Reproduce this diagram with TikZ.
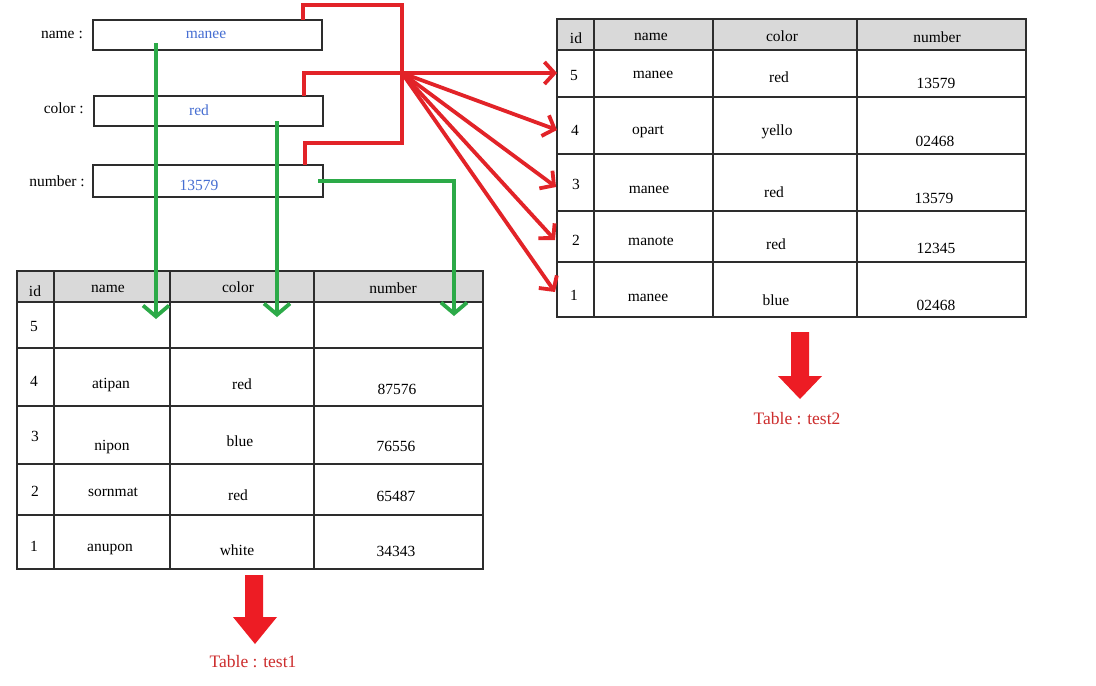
\documentclass[tikz,border=0pt]{standalone}
\usepackage{fontspec}
\setmainfont{Liberation Serif}
\usetikzlibrary{arrows.meta}
\definecolor{redline}{RGB}{226,35,40}
\definecolor{greenline}{RGB}{44,170,72}
\definecolor{bluetext}{RGB}{70,110,210}
\definecolor{headgray}{RGB}{217,217,217}
\definecolor{gridcol}{RGB}{45,45,45}
\definecolor{labelred}{RGB}{205,45,45}
\definecolor{bigred}{RGB}{237,28,36}
\tikzset{
  txt/.style={inner sep=0pt, font=\fontsize{15.5}{18}\selectfont},
  inbox/.style={draw=gridcol, line width=1.3pt, fill=white},
  grid/.style={draw=gridcol, line width=1.3pt},
  redconn/.style={draw=redline, line width=3.8pt, line join=miter},
  redarrow/.style={redconn, -{Straight Barb[length=10pt,width=22pt,line width=3.8pt]}},
  greenarrow/.style={draw=greenline, line width=3.8pt, -{Straight Barb[length=11pt,width=26pt,line width=3.8pt]}},
  bigarrow/.style={fill=bigred, draw=none},
  tablelabel/.style={txt, text=labelred, font=\fontsize{17.5}{20}\selectfont},
}
\begin{document}
\begin{tikzpicture}[x=1pt,y=-1pt]
\useasboundingbox (0,0) rectangle (1096,686);
\fill[white] (0,0) rectangle (1096,686);

% ---------- Table test1 ----------
\fill[headgray] (17,271) rectangle (483,302);
\draw[grid] (17,271) rectangle (483,569);
\foreach \yy in {302,348,406,464,515} \draw[grid] (17,\yy) -- (483,\yy);
\foreach \xx in {54,170,314} \draw[grid] (\xx,271) -- (\xx,569);

\node[txt] (a00) at (35,291) {id};
\node[txt] (a01) at (108,289) {name};
\node[txt] (a02) at (238,287) {color};
\node[txt] (a03) at (393,288) {number};
\node[txt] (a10) at (34,326) {5};
\node[txt] (a20) at (34,381) {4};
\node[txt] (a21) at (111,385) {atipan};
\node[txt] (a22) at (242,384) {red};
\node[txt] (a23) at (397,389) {87576};
\node[txt] (a30) at (35,436) {3};
\node[txt] (a31) at (112,447) {nipon};
\node[txt] (a32) at (240,441) {blue};
\node[txt] (a33) at (396,446) {76556};
\node[txt] (a40) at (35,491) {2};
\node[txt] (a41) at (113,492) {sornmat};
\node[txt] (a42) at (238,495) {red};
\node[txt] (a43) at (396,496) {65487};
\node[txt] (a50) at (34,546) {1};
\node[txt] (a51) at (110,549) {anupon};
\node[txt] (a52) at (237,550) {white};
\node[txt] (a53) at (396,551) {34343};

% ---------- Table test2 ----------
\fill[headgray] (557,19) rectangle (1026,50);
\draw[grid] (557,19) rectangle (1026,317);
\foreach \yy in {50,97,154,211,262} \draw[grid] (557,\yy) -- (1026,\yy);
\foreach \xx in {594,713,857} \draw[grid] (\xx,19) -- (\xx,317);

\node[txt] (b00) at (576,38) {id};
\node[txt] (b01) at (651,37) {name};
\node[txt] (b02) at (782,36) {color};
\node[txt] (b03) at (937,37) {number};
\node[txt] (b10) at (574,75) {5};
\node[txt] (b11) at (653,75) {manee};
\node[txt] (b12) at (779,77) {red};
\node[txt] (b13) at (936,83) {13579};
\node[txt] (b20) at (575,130) {4};
\node[txt] (b21) at (648,132) {opart};
\node[txt] (b22) at (777,132) {yello};
\node[txt] (b23) at (935,141) {02468};
\node[txt] (b30) at (576,184) {3};
\node[txt] (b31) at (649,190) {manee};
\node[txt] (b32) at (774,192) {red};
\node[txt] (b33) at (934,198) {13579};
\node[txt] (b40) at (576,240) {2};
\node[txt] (b41) at (651,241) {manote};
\node[txt] (b42) at (776,244) {red};
\node[txt] (b43) at (936,248) {12345};
\node[txt] (b50) at (574,295) {1};
\node[txt] (b51) at (648,298) {manee};
\node[txt] (b52) at (776,300) {blue};
\node[txt] (b53) at (936,305) {02468};

% ---------- Input boxes ----------
\node[txt, anchor=east] (lname) at (83,35) {name :};
\node[txt, anchor=east] (lcolor) at (84,108) {color :};
\node[txt, anchor=east] (lnumber) at (85,181) {number :};
\path[inbox] (93,20) rectangle (322,50);
\path[inbox] (94,96) rectangle (323,126);
\path[inbox] (93,165) rectangle (323,197);
\node[txt, text=bluetext] (vname) at (206,35) {manee};
\node[txt, text=bluetext] (vcolor) at (199,110) {red};
\node[txt, text=bluetext] (vnumber) at (199,185) {13579};

% ---------- coordinates ----------
\coordinate (hub) at (402,73);
\coordinate (gs1) at (156,43);  \coordinate (ge1) at (156,319);
\coordinate (gs2) at (277,121); \coordinate (ge2) at (277,317);
\coordinate (gs3) at (318,181); \coordinate (ge3) at (454,316);
\coordinate (r5) at (557,73);
\coordinate (r4) at (557,130);
\coordinate (r3) at (556,187);
\coordinate (r2) at (555,240);
\coordinate (r1) at (555,292);

% ---------- red connectors ----------
\draw[redconn] (303,20) -- (303,5) -- (402,5) -- (hub) -- (402,143) -- (305,143) -- (305,165);
\draw[redconn] (304,96) -- (304,73) -- (hub);
\draw[redarrow] (hub) -- (r5);
\draw[redarrow] (hub) -- (r4);
\draw[redarrow] (hub) -- (r3);
\draw[redarrow] (hub) -- (r2);
\draw[redarrow] (hub) -- (r1);

% ---------- green connectors ----------
\draw[greenarrow] (gs1) -- (ge1);
\draw[greenarrow] (gs2) -- (ge2);
\draw[greenarrow] (gs3) -- (454,181) -- (ge3);

% ---------- big arrows & labels ----------
\path[bigarrow] (245,575) -- (263,575) -- (263,617) -- (277,617) -- (255,644) -- (233,617) -- (245,617) -- cycle;
\node[tablelabel] (l1) at (253,662) {Table : test1};
\path[bigarrow] (791,332) -- (809,332) -- (809,376) -- (822,376) -- (800,399) -- (778,376) -- (791,376) -- cycle;
\node[tablelabel] (l2) at (797,419) {Table : test2};
\end{tikzpicture}
\end{document}
